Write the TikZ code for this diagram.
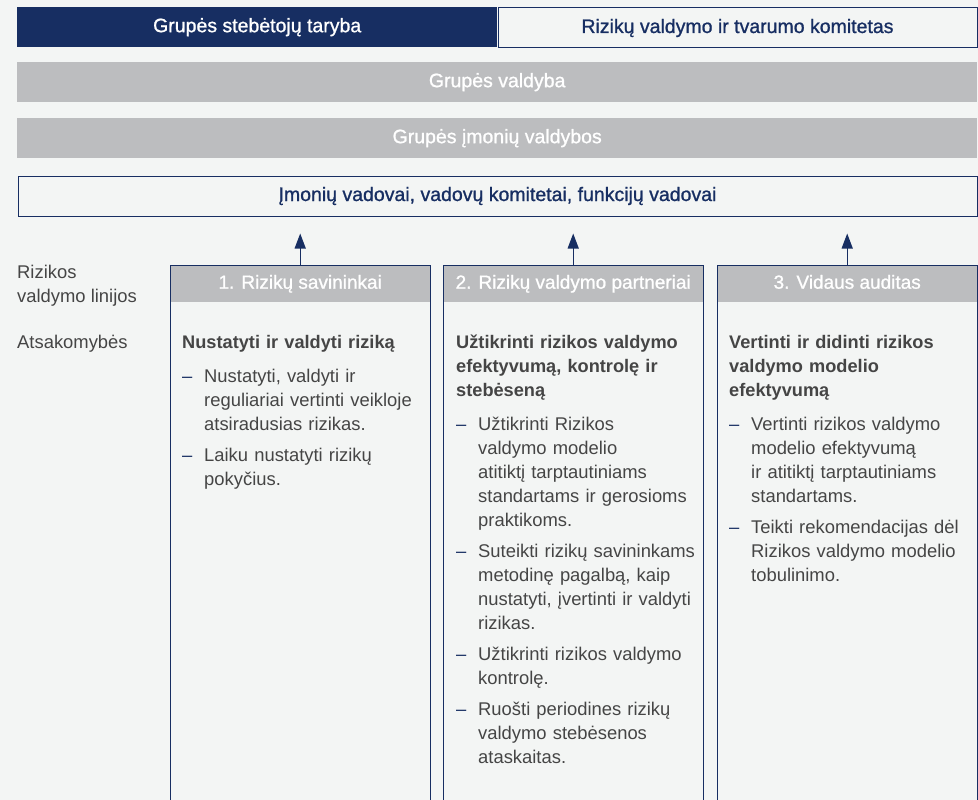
\documentclass[tikz,border=0pt]{standalone}
\usepackage{fontspec}
\setmainfont{Liberation Sans}
\newfontfamily\medfont{Liberation Sans}[FakeBold=1]
\usepackage{xcolor}
\usetikzlibrary{arrows.meta,positioning,calc}

\definecolor{rnavy}{HTML}{172E62}
\definecolor{rgray}{HTML}{BCBDBF}
\definecolor{rbg}{HTML}{F3F5F4}
\definecolor{rtext}{HTML}{454545}

\newcommand{\coltitle}[1]{\strut{\bfseries\fontsize{18.2}{24}\selectfont #1}\par\vspace{10pt}}
\newcommand{\colitem}[1]{\hangindent=22pt\hangafter=1\noindent\makebox[22pt][l]{\textcolor{rnavy}{--}}#1\par\vspace{7pt}}

\begin{document}
\begin{tikzpicture}[x=1pt,y=-1pt,>=Latex,font=\fontsize{18.4}{24}\selectfont]
\tikzstyle{bar}=[anchor=north west,minimum height=40pt,inner sep=0pt,text height=14pt,text depth=4pt,font=\fontsize{19.5}{24}\selectfont\medfont]
\tikzstyle{navybox}=[bar,fill=rnavy,text=white,minimum width=480pt]
\tikzstyle{openbox}=[bar,draw=rnavy,line width=1pt,text=rnavy]
\tikzstyle{graybar}=[bar,fill=rgray,text=white,minimum width=960pt]
\tikzstyle{colhead}=[bar,fill=rgray,text=white,minimum width=260pt,minimum height=37pt,font=\fontsize{19}{24}\selectfont\medfont]
\tikzstyle{colline}=[draw=rnavy,line width=1pt]
\tikzstyle{colbody}=[anchor=north west,inner sep=0pt,text width=245pt,align=left,text=rtext]
\tikzstyle{sidelabel}=[anchor=north west,inner sep=0pt,align=left,text=rtext]
\tikzstyle{uparrow}=[-{Triangle[length=15pt,width=11pt]},draw=rnavy,line width=1.3pt,shorten >=17pt]

\fill[rbg] (0,0) rectangle (978,800);
\useasboundingbox (0,0) rectangle (978,800);
\coordinate (bottom) at (0,801);

% governance bars
\node[navybox] (taryba) at (17,7) {Grupės stebėtojų taryba};
\node[openbox,minimum width=479pt] (komitetas) at (497.5,7.5) {Rizikų valdymo ir tvarumo komitetas};
\node[graybar] (valdyba) at (17,62) {Grupės valdyba};
\node[graybar] (valdybos) at (17,118) {Grupės įmonių valdybos};
\node[openbox,minimum width=959pt] (vadovai) at (17.5,175.5) {Įmonių vadovai, vadovų komitetai, funkcijų vadovai};

% side labels
\node[sidelabel] (linijos) at (17,261) {\strut Rizikos\\valdymo linijos};
\node[sidelabel] (atsak) at (17,331) {\strut Atsakomybės};

% three lines of defence
\node[colhead] (hdr1) at (170,265) {1. Rizikų savininkai};
\node[colhead] (hdr2) at (443,265) {2. Rizikų valdymo partneriai};
\node[colhead] (hdr3) at (717,265) {3. Vidaus auditas};

\foreach \c in {hdr1,hdr2,hdr3}{
  \draw[colline] (\c.north west |- bottom) -- (\c.north west) -- (\c.north east) -- (\c.north east |- bottom);
  \draw[uparrow] (\c.north) -- (\c.north |- vadovai.south);
}

\node[colbody] (body1) at (182,331) {%
\coltitle{Nustatyti ir valdyti riziką}
\colitem{Nustatyti, valdyti ir\newline reguliariai vertinti veikloje\newline atsiradusias rizikas.}
\colitem{Laiku nustatyti rizikų\newline pokyčius.}};

\node[colbody] (body2) at (456,331) {%
\coltitle{Užtikrinti rizikos valdymo\newline efektyvumą, kontrolę ir\newline stebėseną}
\colitem{Užtikrinti Rizikos\newline valdymo modelio\newline atitiktį tarptautiniams\newline standartams ir gerosioms\newline praktikoms.}
\colitem{Suteikti rizikų savininkams\newline metodinę pagalbą, kaip\newline nustatyti, įvertinti ir valdyti\newline rizikas.}
\colitem{Užtikrinti rizikos valdymo\newline kontrolę.}
\colitem{Ruošti periodines rizikų\newline valdymo stebėsenos\newline ataskaitas.}};

\node[colbody] (body3) at (729,331) {%
\coltitle{Vertinti ir didinti rizikos\newline valdymo modelio\newline efektyvumą}
\colitem{Vertinti rizikos valdymo\newline modelio efektyvumą\newline ir atitiktį tarptautiniams\newline standartams.}
\colitem{Teikti rekomendacijas dėl\newline Rizikos valdymo modelio\newline tobulinimo.}};
\end{tikzpicture}
\end{document}
